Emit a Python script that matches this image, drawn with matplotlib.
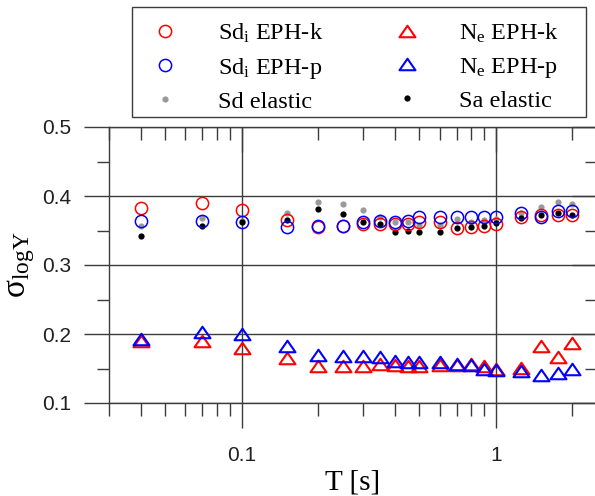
import numpy as np
import matplotlib
matplotlib.use("Agg")
import matplotlib.pyplot as plt
from matplotlib.path import Path
from matplotlib.patches import Rectangle

plt.rcParams['font.family'] = ['Liberation Sans', 'DejaVu Sans']
plt.rcParams['mathtext.fontset'] = 'custom'
plt.rcParams['mathtext.rm'] = 'Liberation Serif'
plt.rcParams['mathtext.it'] = 'Liberation Serif:italic'

# periods [s]
T = [0.04, 0.07, 0.1, 0.15, 0.2, 0.25, 0.3, 0.35, 0.4, 0.45,
     0.5, 0.6, 0.7, 0.8, 0.9, 1.0, 1.25, 1.5, 1.75, 2.0]

# sigma logY
sd_eph_k = [0.383, 0.390, 0.380, 0.365, 0.355, 0.356, 0.359, 0.360, 0.359, 0.360,
            0.362, 0.362, 0.354, 0.355, 0.357, 0.360, 0.369, 0.372, 0.373, 0.373]
sd_eph_p = [0.364, 0.364, 0.362, 0.355, 0.356, 0.357, 0.362, 0.364, 0.363, 0.364,
            0.370, 0.369, 0.369, 0.369, 0.369, 0.370, 0.375, 0.369, 0.378, 0.378]
sd_elastic = [0.357, 0.368, 0.364, 0.376, 0.392, 0.389, 0.379, 0.370, 0.363, 0.362,
              0.358, 0.358, 0.366, 0.363, 0.365, 0.366, 0.376, 0.384, 0.391, 0.388]
sa_elastic = [0.342, 0.357, 0.362, 0.365, 0.381, 0.374, 0.362, 0.359, 0.348, 0.349,
              0.348, 0.348, 0.353, 0.355, 0.357, 0.361, 0.368, 0.372, 0.375, 0.373]
ne_eph_k = [0.190, 0.190, 0.179, 0.165, 0.154, 0.154, 0.154, 0.157, 0.155, 0.154,
            0.154, 0.155, 0.155, 0.157, 0.154, 0.149, 0.151, 0.183, 0.167, 0.187]
ne_eph_p = [0.193, 0.203, 0.200, 0.183, 0.170, 0.168, 0.168, 0.166, 0.161, 0.160,
            0.160, 0.160, 0.157, 0.155, 0.150, 0.148, 0.147, 0.141, 0.143, 0.150]

RED = '#ff0000'
BLUE = '#0000ff'
GRID = '#3c3c3c'

# wide, flat triangle like in the original
tri = Path([(-1, -0.72), (1, -0.72), (0, 0.72), (-1, -0.72)],
           [Path.MOVETO, Path.LINETO, Path.LINETO, Path.CLOSEPOLY])

fig = plt.figure(figsize=(5.95, 4.96), dpi=100)
pos = [109 / 595, 1 - 403 / 496, (597 - 109) / 595, (403 - 127) / 496]
ax = fig.add_axes(pos)

h_gray, = ax.plot(T, sd_elastic, 'o', color='#9a9a9a', ms=4.5, mew=0, ls='none', label='Sd elastic')
h_black, = ax.plot(T, sa_elastic, 'o', color='black', ms=4.5, mew=0, ls='none', label='Sa elastic')
h_rc, = ax.plot(T, sd_eph_k, 'o', mfc='none', mec=RED, ms=8.8, mew=1.1, ls='none',
                label=r'Sd$_{\mathrm{i}}$ EPH-k')
h_bc, = ax.plot(T, sd_eph_p, 'o', mfc='none', mec=BLUE, ms=8.8, mew=1.1, ls='none',
                label=r'Sd$_{\mathrm{i}}$ EPH-p')
h_rt, = ax.plot(T, ne_eph_k, ls='none', marker=tri, mfc='none', mec=RED, ms=11.5, mew=1.5,
                label=r'N$_{\mathrm{e}}$ EPH-k')
h_bt, = ax.plot(T, ne_eph_p, ls='none', marker=tri, mfc='none', mec=BLUE, ms=11.5, mew=1.5,
                label=r'N$_{\mathrm{e}}$ EPH-p')

ax.set_xscale('log')
ax.set_xlim(0.03, 2.5)
ax.set_ylim(0.1, 0.5)
ax.set_yticks([0.1, 0.2, 0.3, 0.4, 0.5])
ax.set_yticklabels(['0.1', '0.2', '0.3', '0.4', '0.5'])
ax.set_yticks([0.15, 0.25, 0.35, 0.45], minor=True)
ax.set_xticks([0.1, 1])
ax.set_xticklabels(['0.1', '1'])
ax.set_xticks([0.03, 0.04, 0.05, 0.06, 0.07, 0.08, 0.09,
               0.2, 0.3, 0.4, 0.5, 0.6, 0.7, 0.8, 0.9, 2.0], minor=True)
ax.xaxis.set_minor_formatter(plt.NullFormatter())

ax.grid(True, which='major', color=GRID, lw=1.0)
ax.set_axisbelow(True)
ax.tick_params(which='major', direction='out', length=18, width=1.0, color=GRID,
               labelsize=15, labelcolor='#202020')
ax.tick_params(which='minor', direction='out', length=9, width=1.0, color=GRID)
ax.tick_params(axis='x', pad=13)
ax.tick_params(axis='y', pad=9)
for s in ax.spines.values():
    s.set_color(GRID)
    s.set_linewidth(1.0)

ax.set_xlabel('T [s]', family='Liberation Serif', fontsize=21, labelpad=3)
ax.set_ylabel(r'σ$_{\mathrm{logY}}$', family='Liberation Serif', fontsize=24, labelpad=4)

# top and right ticks point inward: overlay axes without labels
ax2 = fig.add_axes(pos, frameon=False)
ax2.set_xscale('log')
ax2.set_xlim(ax.get_xlim())
ax2.set_ylim(ax.get_ylim())
ax2.set_xticks(ax.get_xticks())
ax2.set_xticks(ax.get_xticks(minor=True), minor=True)
ax2.set_yticks(ax.get_yticks())
ax2.set_yticks(ax.get_yticks(minor=True), minor=True)
ax2.tick_params(which='both', direction='in', color=GRID, width=1.0,
                bottom=False, left=False, top=True, right=True,
                labelbottom=False, labelleft=False)
ax2.tick_params(which='major', length=18)
ax2.tick_params(which='minor', length=9)
ax2.patch.set_visible(False)

# legend box drawn separately (wider on the right than the entries need)
fig.patches.append(Rectangle((132 / 595, 1 - 117 / 496), (586 - 132) / 595, (117 - 7) / 496,
                             transform=fig.transFigure, fill=False,
                             edgecolor=GRID, lw=1.0))

handles = [h_rc, h_bc, h_gray, h_rt, h_bt, h_black]
leg = fig.legend(handles=handles, ncol=2, loc='upper left',
                 bbox_to_anchor=(132 / 595, 1 - 13 / 496),
                 prop={'family': 'Liberation Serif', 'size': 17.5},
                 frameon=False,
                 handlelength=2.0, handletextpad=1.15, columnspacing=2.45,
                 labelspacing=0.42, borderpad=0.37, borderaxespad=0)

fig.savefig('out.png', dpi=100)
